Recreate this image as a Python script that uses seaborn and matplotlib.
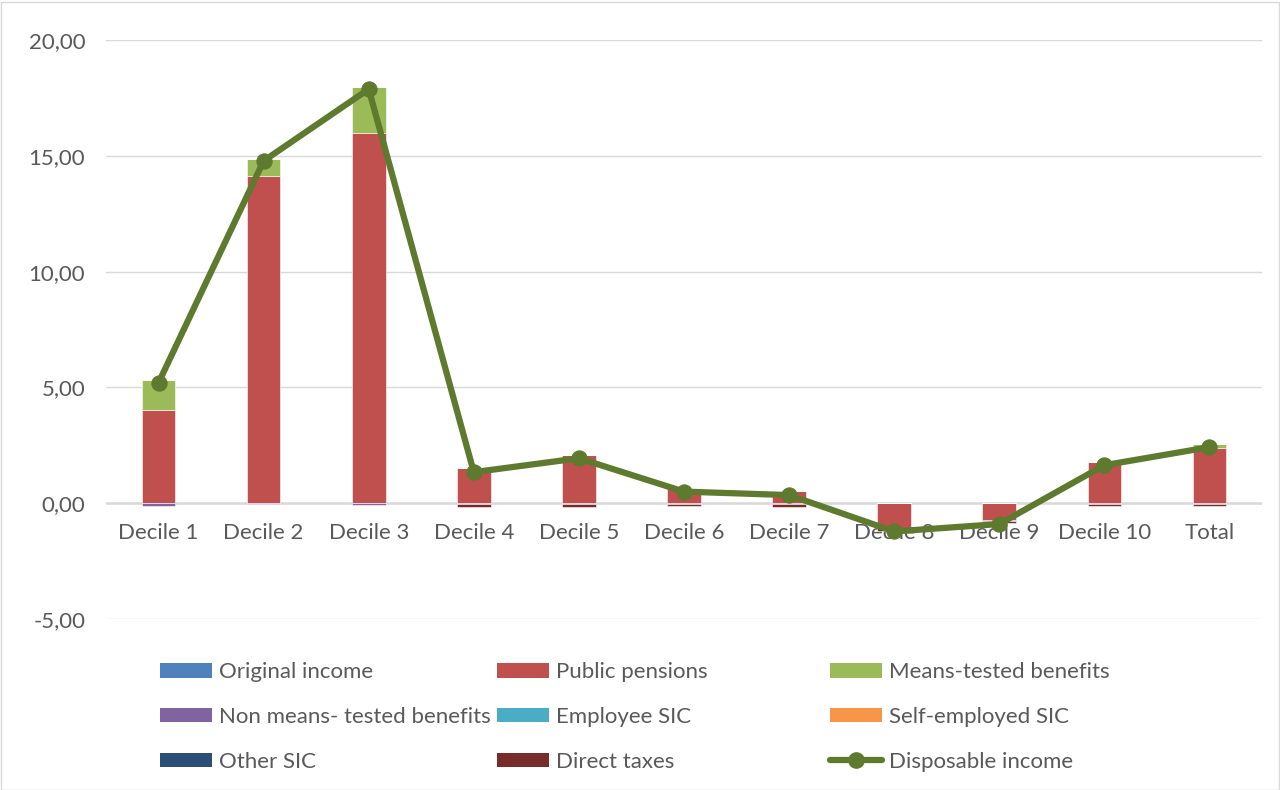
import numpy as np
import pandas as pd
import seaborn as sns
import matplotlib.pyplot as plt
from matplotlib.ticker import FuncFormatter
from matplotlib.patches import Patch
from matplotlib.lines import Line2D

categories = ["Decile 1", "Decile 2", "Decile 3", "Decile 4", "Decile 5", "Decile 6",
              "Decile 7", "Decile 8", "Decile 9", "Decile 10", "Total"]

original_income = [0, 0, 0, 0, 0, 0, 0, 0, 0, 0, 0]
public_pensions = [4.02, 14.12, 15.98, 1.51, 2.07, 0.66, 0.52, -1.05, -0.73, 1.77, 2.37]
means_tested = [1.29, 0.73, 1.98, 0.0, 0.03, 0.0, 0.0, 0.0, 0.03, 0.0, 0.18]
non_means_tested = [-0.10, -0.05, -0.08, -0.05, -0.05, -0.03, -0.03, 0.0, -0.02, -0.03, -0.04]
employee_sic = [0, 0, 0, 0, 0, 0, 0, 0, 0, 0, 0]
self_employed_sic = [0, 0, 0, 0, 0, 0, 0, 0, 0, 0, 0]
other_sic = [0, 0, 0, 0, 0, 0, 0, 0, 0, 0, 0]
direct_taxes = [0.0, 0.0, 0.0, -0.10, -0.10, -0.10, -0.15, -0.15, -0.12, -0.10, -0.08]
disposable_income = [5.20, 14.78, 17.88, 1.34, 1.94, 0.50, 0.35, -1.22, -0.90, 1.64, 2.42]

series = [
    ("Original income", original_income, "#4F81BD"),
    ("Public pensions", public_pensions, "#C0504D"),
    ("Means-tested benefits", means_tested, "#9BBB59"),
    ("Non means- tested benefits", non_means_tested, "#8064A2"),
    ("Employee SIC", employee_sic, "#4BACC6"),
    ("Self-employed SIC", self_employed_sic, "#F79646"),
    ("Other SIC", other_sic, "#2C4D75"),
    ("Direct taxes", direct_taxes, "#772C2A"),
]
line_color = "#5E7A2E"
text_color = "#595959"

sns.set_style("white")
plt.rcParams["font.family"] = ["Lato", "DejaVu Sans"]

fig = plt.figure(figsize=(12.8, 7.9), dpi=100)
ax = fig.add_axes([106 / 1280, 1 - 619 / 790, (1262 - 106) / 1280, (619 - 40) / 790])

x = np.arange(len(categories))
pos_bottom = np.zeros(len(categories))
neg_bottom = np.zeros(len(categories))
for name, vals, color in series:
    v = np.array(vals, dtype=float)
    bottom = np.where(v >= 0, pos_bottom, neg_bottom)
    ax.bar(x, v, bottom=bottom, width=0.32, color=color, edgecolor="white",
           linewidth=0.4, zorder=2)
    pos_bottom += np.where(v >= 0, v, 0)
    neg_bottom += np.where(v < 0, v, 0)

df_line = pd.DataFrame({"x": x, "y": disposable_income})
sns.lineplot(data=df_line, x="x", y="y", color=line_color, linewidth=4.5, marker="o",
             markersize=11, markeredgecolor=line_color, ax=ax, zorder=3)

ax.set_xlim(-0.5, len(categories) - 0.5)
ax.set_ylim(-5, 20)
ax.set_yticks([-5, 0, 5, 10, 15, 20])
ax.yaxis.set_major_formatter(FuncFormatter(lambda v, p: f"{v:.2f}".replace(".", ",")))
ax.grid(axis="y", color="#D9D9D9", linewidth=1, zorder=0)
ax.axhline(0, color="#D9D9D9", linewidth=1.8, zorder=1)
ax.set_xticks(x)
ax.set_xticklabels(categories)
for s in ax.spines.values():
    s.set_visible(False)
ax.spines["bottom"].set_position(("data", 0))
ax.tick_params(axis="x", length=0, pad=14, labelsize=16, labelcolor=text_color)
ax.tick_params(axis="y", length=0, pad=15, labelsize=16, labelcolor=text_color)
ax.set_xlabel("")
ax.set_ylabel("")

handles = [Patch(facecolor=c, edgecolor="none", label=n) for n, _, c in series]
handles.append(Line2D([0], [0], color=line_color, linewidth=4.5, marker="o",
                      markersize=11, label="Disposable income"))
columns = [[0, 3, 6], [1, 4, 7], [2, 5, 8]]
col_x = [160 / 1280, 497 / 1280, 830 / 1280]
for cx, idx in zip(col_x, columns):
    leg = fig.legend(handles=[handles[i] for i in idx], loc="upper left",
                     bbox_to_anchor=(cx, 1 - 662 / 790), frameon=False, fontsize=16,
                     handlelength=2.35, handleheight=0.64, handletextpad=0.3,
                     labelspacing=1.12, borderpad=0, borderaxespad=0)
    for t in leg.get_texts():
        t.set_color(text_color)

fig.patches.append(plt.Rectangle((0.5 / 1280, 0.5 / 790), 1 - 2 / 1280, 1 - 2 / 790,
                                 transform=fig.transFigure, fill=False,
                                 edgecolor="#D9D9D9", linewidth=1))

fig.savefig("out.png", dpi=100)
